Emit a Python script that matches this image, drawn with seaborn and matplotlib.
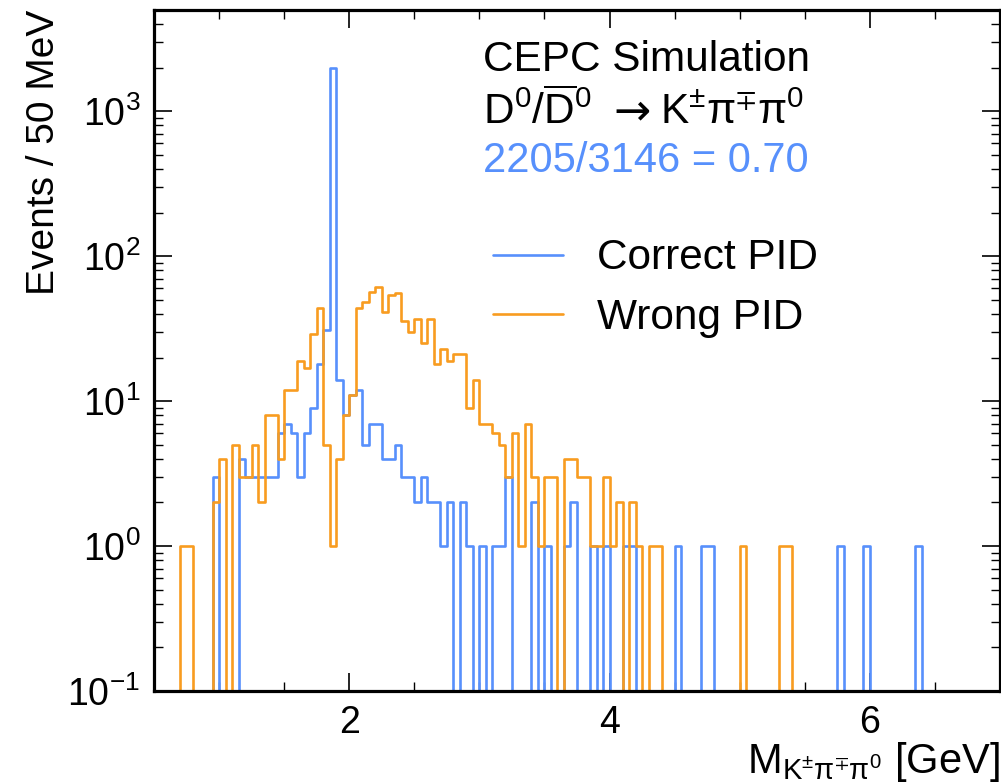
import numpy as np
import pandas as pd
import matplotlib
matplotlib.use("Agg")
import matplotlib.pyplot as plt
import seaborn as sns
from matplotlib.lines import Line2D
from matplotlib.ticker import LogLocator, MultipleLocator, NullFormatter

# ---------------- data (50 MeV bins, lower bin edge in GeV) ----------------
correct_low = [0.95, 1.15, 1.20, 1.25, 1.30, 1.35, 1.40, 1.45, 1.50, 1.55,
               1.60, 1.65, 1.70, 1.75, 1.80, 1.85, 1.90, 1.95, 2.00, 2.05,
               2.10, 2.15, 2.20, 2.25, 2.30, 2.35, 2.40, 2.45, 2.50, 2.55,
               2.60, 2.65, 2.70, 2.75, 2.85, 2.90, 3.00, 3.10, 3.15, 3.20,
               3.40, 3.50, 3.65, 3.70, 3.85, 3.95, 4.10, 4.15, 4.50, 4.70,
               4.75, 5.75, 5.95, 6.35]
correct_counts = [3, 4, 3, 3, 3, 3, 3, 6, 7, 6,
                  3, 6, 9, 18, 31, 1977, 14, 8, 11, 12,
                  5, 7, 7, 4, 4, 5, 3, 3, 2, 3,
                  2, 2, 1, 2, 2, 1, 1, 1, 1, 3,
                  2, 1, 1, 2, 1, 1, 1, 1, 1, 1,
                  1, 1, 1, 1]

wrong_low = [0.70, 0.75, 0.95, 1.00, 1.10, 1.15, 1.20, 1.25, 1.30, 1.35,
             1.40, 1.45, 1.50, 1.55, 1.60, 1.65, 1.70, 1.75, 1.80, 1.85,
             1.90, 1.95, 2.00, 2.05, 2.10, 2.15, 2.20, 2.25, 2.30, 2.35,
             2.40, 2.45, 2.50, 2.55, 2.60, 2.65, 2.70, 2.75, 2.80, 2.85,
             2.90, 2.95, 3.00, 3.05, 3.10, 3.15, 3.20, 3.25, 3.30, 3.35,
             3.40, 3.45, 3.50, 3.55, 3.65, 3.70, 3.75, 3.80, 3.85, 3.90,
             3.95, 4.00, 4.05, 4.15, 4.20, 4.30, 4.35, 5.00, 5.30, 5.35]
wrong_counts = [1, 1, 2, 4, 5, 3, 3, 5, 2, 8,
                8, 4, 12, 12, 19, 17, 29, 44, 5, 1,
                4, 8, 11, 44, 48, 57, 61, 41, 54, 56,
                36, 30, 37, 25, 37, 18, 23, 19, 21, 21,
                9, 14, 7, 7, 6, 5, 3, 6, 1, 7,
                3, 1, 3, 3, 4, 4, 3, 3, 1, 1,
                3, 1, 2, 2, 1, 1, 1, 1, 1, 1]

series_labels = ["Correct PID", "Wrong PID"]
series_colors = ["#5790fc", "#f89c20"]
n_correct, n_total = 2205, 3146

bin_width = 0.05
x_min, x_max = 0.5, 7.0
edges = [round(v, 3) for v in np.arange(x_min, x_max + bin_width / 2, bin_width)]

df = pd.concat([
    pd.DataFrame({"mass": np.array(correct_low) + bin_width / 2,
                  "count": correct_counts, "pid": series_labels[0]}),
    pd.DataFrame({"mass": np.array(wrong_low) + bin_width / 2,
                  "count": wrong_counts, "pid": series_labels[1]}),
], ignore_index=True)

# ---------------- style ----------------
sns.set_theme(style="ticks")
plt.rcParams["font.family"] = ["Liberation Sans", "DejaVu Sans"]
plt.rcParams["mathtext.fontset"] = "custom"
plt.rcParams["mathtext.rm"] = "Liberation Sans"
plt.rcParams["mathtext.it"] = "Liberation Sans"
plt.rcParams["mathtext.bf"] = "Liberation Sans:bold"
plt.rcParams["mathtext.default"] = "regular"
for key in ["text.color", "axes.labelcolor", "xtick.color", "ytick.color",
            "axes.edgecolor"]:
    plt.rcParams[key] = "black"

W, H = 1001, 783
fig = plt.figure(figsize=(W / 100, H / 100), dpi=100)
ax = fig.add_axes([154 / W, 1 - 691 / H, (1000 - 154) / W, (691 - 10) / H])

for lab, col in zip(series_labels, series_colors):
    sub = df[df["pid"] == lab]
    sns.histplot(data=sub, x="mass", weights="count", bins=edges,
                 element="step", fill=False, color=col, linewidth=1.9,
                 ax=ax)

ax.set_yscale("log")
ax.set_xlim(x_min, x_max)
ax.set_ylim(0.1, 5000)

for s in ax.spines.values():
    s.set_linewidth(2.3)
    s.set_color("black")

ax.xaxis.set_major_locator(MultipleLocator(2))
ax.xaxis.set_minor_locator(MultipleLocator(0.5))
ax.yaxis.set_major_locator(LogLocator(base=10, numticks=20))
ax.yaxis.set_minor_locator(LogLocator(base=10, subs=np.arange(2, 10), numticks=20))
ax.yaxis.set_minor_formatter(NullFormatter())
ax.tick_params(which="both", direction="in", top=True, right=True,
               labelsize=27, colors="black")
ax.tick_params(which="major", length=13, width=1.2, pad=10)
ax.tick_params(which="minor", length=6.5, width=1.0)

ax.set_xlabel(r"$M_{K^{\pm}\pi^{\mp}\pi^{0}}$ [GeV]", fontsize=30, loc="right",
              labelpad=-1)
ax.set_ylabel("Events / 50 MeV", fontsize=28, loc="top", labelpad=4)

tf = fig.transFigure
ax.text(483 / W, 1 - 71 / H, "CEPC Simulation", transform=tf,
        fontsize=30.5, ha="left", va="baseline")
# decay line, built from three pieces so the arrow can be longer
ax.text(483 / W, 1 - 124 / H, r"$D^{0}/\overline{D}^{0}$",
        transform=tf, fontsize=30.5, ha="left", va="baseline")
ax.text(632 / W, 1 - 124 / H, "\u2192", transform=tf, fontsize=32,
        ha="center", va="baseline", family="DejaVu Sans")
ax.text(660 / W, 1 - 124 / H, r"$K^{\pm}\pi^{\mp}\pi^{0}$",
        transform=tf, fontsize=30.5, ha="left", va="baseline")
ax.text(483 / W, 1 - 172 / H,
        f"{n_correct}/{n_total} = {n_correct / n_total:.2f}",
        transform=tf, fontsize=30, ha="left", va="baseline",
        color=series_colors[0])

handles = [Line2D([], [], color=c, lw=1.9) for c in series_colors]
ax.legend(handles, series_labels, loc="center left",
          bbox_to_anchor=(493 / W, 1 - 288 / H),
          bbox_transform=tf, frameon=False, fontsize=30.5,
          borderpad=0, borderaxespad=0, handlelength=1.65,
          handletextpad=0.8, labelspacing=0.45)

fig.savefig("out.png", dpi=100)
